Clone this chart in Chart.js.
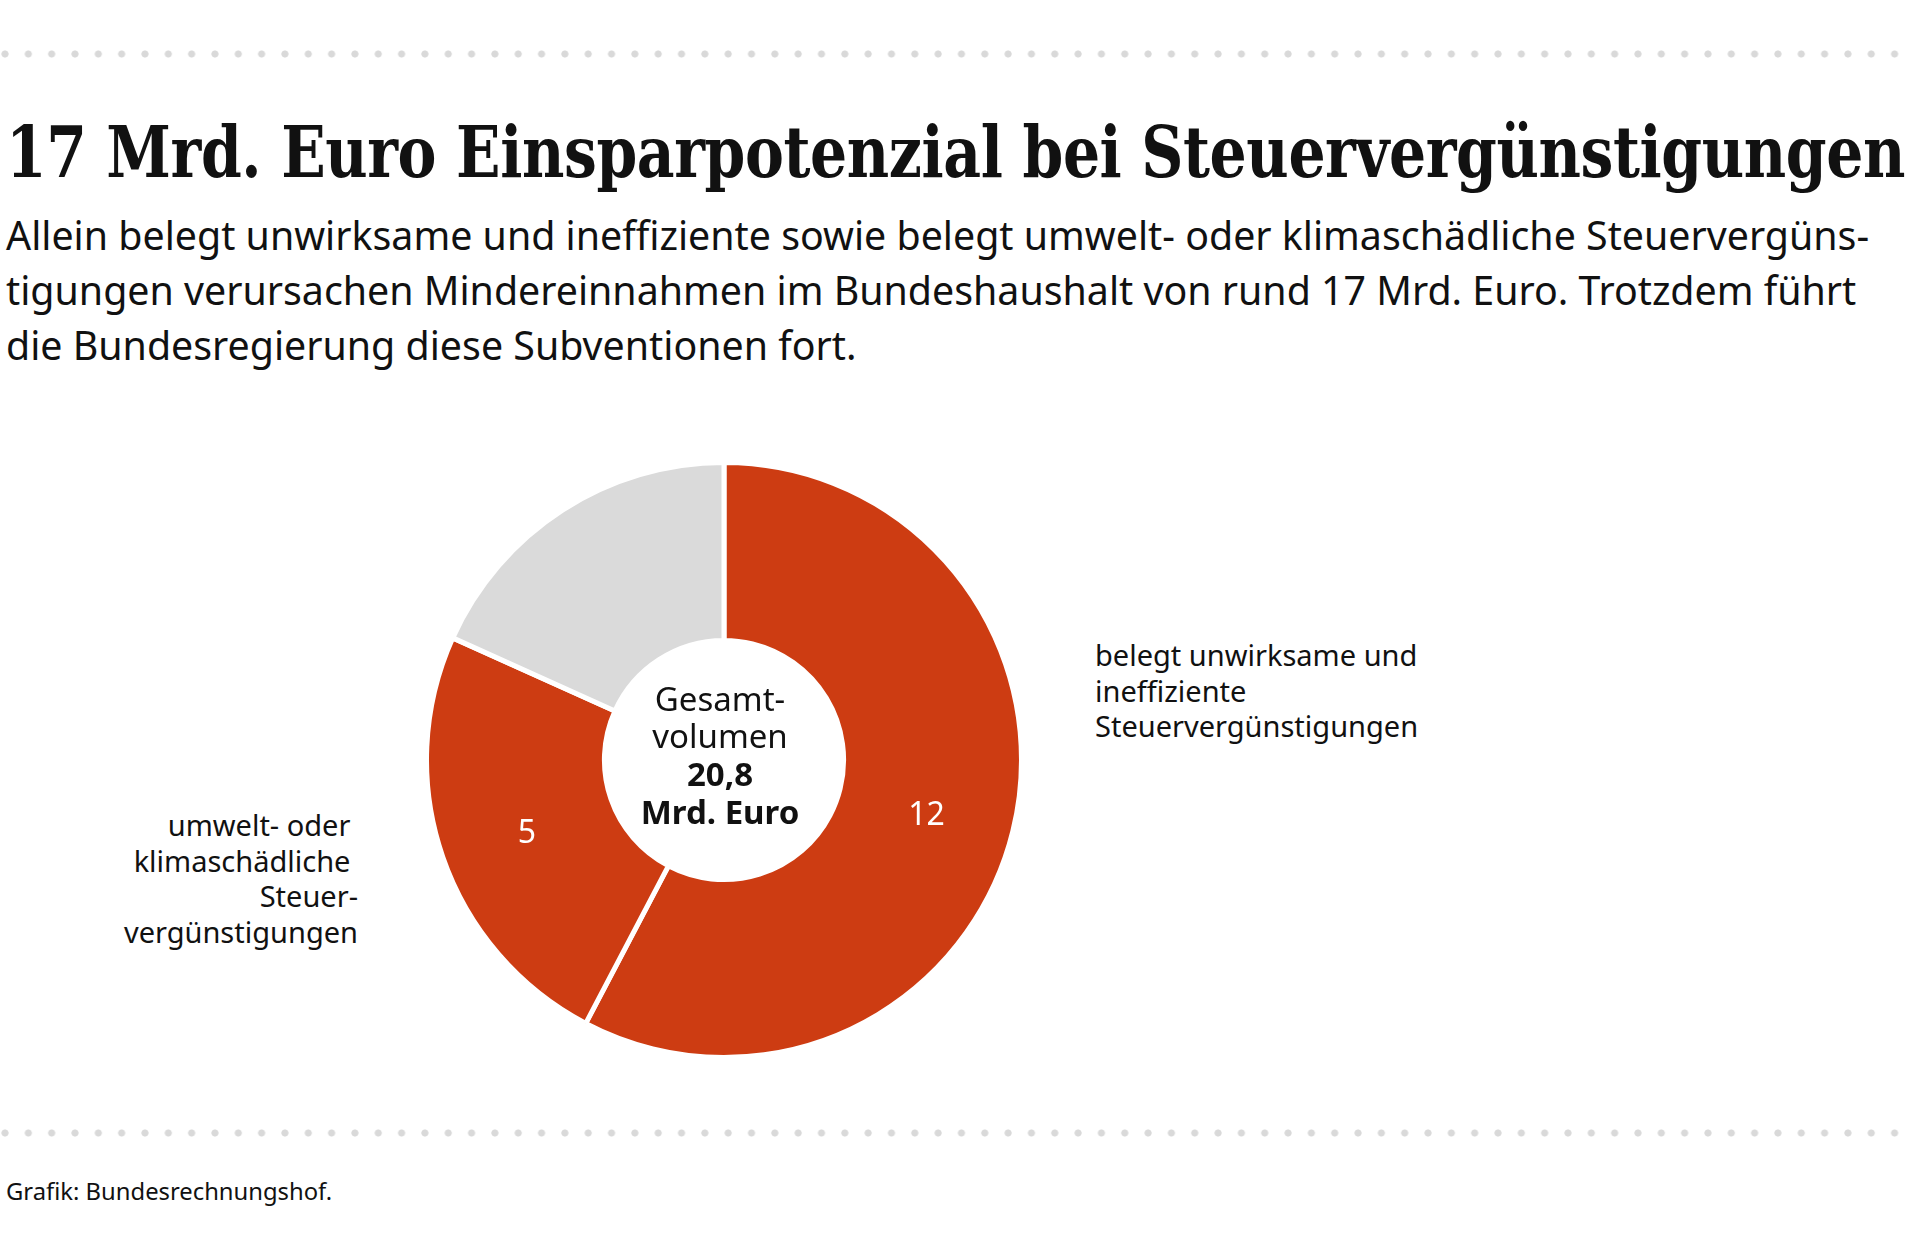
<!DOCTYPE html>
<html lang="de">
<head>
<meta charset="utf-8">
<title>17 Mrd. Euro Einsparpotenzial bei Steuervergünstigungen</title>
<script src="https://cdn.jsdelivr.net/npm/chart.js@4.4.1/dist/chart.umd.min.js"></script>
<style>
  html, body { margin: 0; padding: 0; background: #ffffff; }
  body { width: 1920px; height: 1250px; position: relative; overflow: hidden;
         font-family: "Noto Sans", "Open Sans", sans-serif; color: #111111; }
  .dots { position: absolute; left: 0; width: 1914px; height: 8px;
          background-image: radial-gradient(circle at center, #d9d9d9 0, #d9d9d9 3.2px, rgba(255,255,255,0) 3.9px);
          background-size: 23.333px 8px; background-position: -6.67px 0; background-repeat: repeat-x; }
  .txt { position: absolute; white-space: nowrap; margin: 0; }
  #title { left: 6px; font-family: "DejaVu Serif", serif; font-weight: bold;
           font-size: 71px; line-height: 80px; transform-origin: 0 0; letter-spacing: -0.5px; }
  #subtitle { left: 6px; font-size: 38px; line-height: 55px; }
  #labRight { left: 1095px; font-size: 29px; line-height: 35.5px; text-align: left; }
  #labLeft { right: 1562px; font-size: 29px; line-height: 35.5px; text-align: right; }
  #footer { left: 6px; font-size: 23.8px; line-height: 30px; }
  #chartBox { position: absolute; left: 424px; top: 460px; width: 600px; height: 600px; }
</style>
</head>
<body>

<div class="dots" style="top:50px"></div>
<div class="dots" style="top:1129px"></div>

<div id="title" class="txt">17 Mrd. Euro Einsparpotenzial bei Steuervergünstigungen</div>
<div id="subtitle" class="txt">Allein belegt unwirksame und ineffiziente sowie belegt umwelt- oder klimaschädliche Steuervergüns-<br>tigungen verursachen Mindereinnahmen im Bundeshaushalt von rund 17 Mrd. Euro. Trotzdem führt<br>die Bundesregierung diese Subventionen fort.</div>

<div id="labRight" class="txt"></div>
<div id="labLeft" class="txt"></div>

<div id="chartBox"><canvas id="chart" width="600" height="600"></canvas></div>

<div id="footer" class="txt">Grafik: Bundesrechnungshof.</div>

<script>
// ---------- data ----------
const categories = [
  "belegt unwirksame und ineffiziente Steuervergünstigungen",
  "umwelt- oder klimaschädliche Steuervergünstigungen",
  "übrige Steuervergünstigungen"
];
const values = [12, 5, 3.8];                 // Mrd. Euro
const showValue = [true, true, false];
const sliceColors = ["#CD3C12", "#CD3C12", "#DADADA"];
const labelRightLines = ["belegt unwirksame und", "ineffiziente", "Steuervergünstigungen"];
const labelLeftLines = ["umwelt- oder\u00A0", "klimaschädliche\u00A0", "Steuer-", "vergünstigungen"];
const centerLines = ["Gesamt-", "volumen", "20,8", "Mrd. Euro"];
const centerBold = [false, false, true, true];

// ---------- helpers ----------
const mctx = document.createElement("canvas").getContext("2d");
function placeBaseline(el, firstBaseline) {
  const cs = getComputedStyle(el);
  const fs = parseFloat(cs.fontSize);
  const lh = parseFloat(cs.lineHeight);
  mctx.font = cs.fontWeight + " " + fs + "px " + cs.fontFamily;
  const m = mctx.measureText("Hg");
  const A = m.fontBoundingBoxAscent, D = m.fontBoundingBoxDescent;
  const off = (lh - (A + D)) / 2 + A;
  el.style.top = (firstBaseline - off) + "px";
}

document.getElementById("labRight").innerHTML = labelRightLines.join("<br>");
document.getElementById("labLeft").innerHTML = labelLeftLines.join("<br>");

// fit title width
const title = document.getElementById("title");
const tW = title.getBoundingClientRect().width;
title.style.transform = "scaleX(" + (1899 / tW) + ")";
placeBaseline(title, 177);

// fit subtitle font so that first line spans ~1864px
const sub = document.getElementById("subtitle");
mctx.font = "38px " + getComputedStyle(sub).fontFamily;
const l1 = mctx.measureText("Allein belegt unwirksame und ineffiziente sowie belegt umwelt- oder klimaschädliche Steuervergüns-").width;
sub.style.fontSize = (38 * 1864 / l1).toFixed(2) + "px";
placeBaseline(sub, 250);

placeBaseline(document.getElementById("labRight"), 666.5);
placeBaseline(document.getElementById("labLeft"), 836.5);
placeBaseline(document.getElementById("footer"), 1200);

// ---------- chart ----------
const fmt = v => v.toLocaleString("de-DE");

const sliceLabels = {
  id: "sliceLabels",
  afterDatasetsDraw(chart) {
    const ctx = chart.ctx;
    const meta = chart.getDatasetMeta(0);
    ctx.save();
    ctx.textAlign = "center";
    ctx.textBaseline = "alphabetic";
    ctx.fillStyle = "#ffffff";
    const vf = 32;
    ctx.font = vf + 'px "Noto Sans"';
    meta.data.forEach((arc, i) => {
      if (!showValue[i]) return;
      const p = arc.getCenterPoint();
      ctx.fillText(fmt(values[i]), p.x, p.y + vf * 0.357 + 3.5);
    });
    const cx = meta.data[0].x, cy = meta.data[0].y;
    ctx.fillStyle = "#111111";
    centerLines.forEach((t, i) => {
      ctx.font = (centerBold[i] ? "bold " : "") + '33px "Noto Sans"';
      ctx.fillText(t, cx - 4, cy - 49.5 + i * 37.7);
    });
    ctx.restore();
  }
};

new Chart(document.getElementById("chart"), {
  type: "doughnut",
  data: {
    labels: categories,
    datasets: [{
      data: values,
      backgroundColor: sliceColors,
      borderColor: "#ffffff",
      borderWidth: 5,
      hoverOffset: 0
    }]
  },
  options: {
    responsive: false,
    devicePixelRatio: 1,
    animation: false,
    events: [],
    radius: 297.5,
    cutout: "40.2%",
    rotation: 0,
    layout: { padding: 0 },
    plugins: {
      legend: { display: false },
      tooltip: { enabled: false },
      title: { display: false }
    }
  },
  plugins: [sliceLabels]
});
</script>
</body>
</html>
